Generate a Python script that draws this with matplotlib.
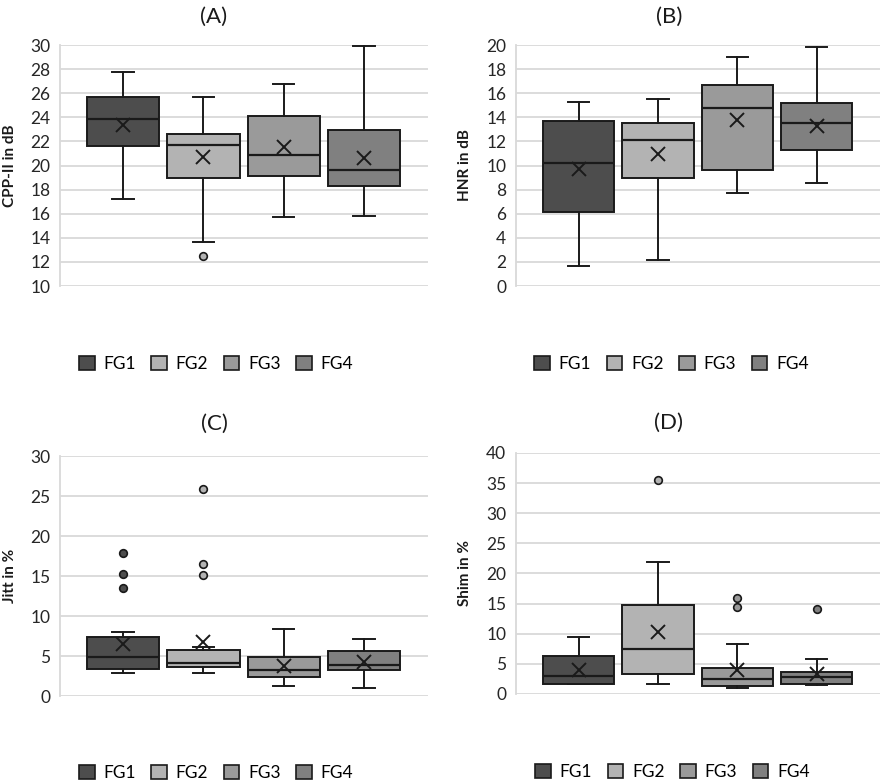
import matplotlib
matplotlib.use("Agg")
import matplotlib.pyplot as plt
from matplotlib.patches import Patch

plt.rcParams['font.family'] = ['Lato', 'DejaVu Sans']

groups = ["FG1", "FG2", "FG3", "FG4"]
colors = ["#4d4d4d", "#b3b3b3", "#9a9a9a", "#808080"]

# Panel A: CPP-II in dB
a_whislo = [17.25, 13.65, 15.73, 15.81]
a_q1 = [21.6, 18.93, 19.1, 18.3]
a_med = [23.83, 21.73, 20.9, 19.65]
a_q3 = [25.68, 22.6, 24.14, 22.95]
a_whishi = [27.76, 25.66, 26.74, 29.92]
a_mean = [23.36, 20.73, 21.56, 20.65]
a_fliers = [[], [12.49], [], []]

# Panel B: HNR in dB
b_whislo = [1.63, 2.19, 7.69, 8.55]
b_q1 = [6.11, 8.96, 9.65, 11.26]
b_med = [10.18, 12.09, 14.77, 13.5]
b_q3 = [13.69, 13.5, 16.68, 15.16]
b_whishi = [15.3, 15.49, 19.03, 19.81]
b_mean = [9.71, 10.98, 13.75, 13.31]
b_fliers = [[], [], [], []]

# Panel C: Jitt in %
c_whislo = [2.83, 2.92, 1.29, 1.0]
c_q1 = [3.33, 3.67, 2.38, 3.25]
c_med = [4.88, 4.08, 3.25, 3.92]
c_q3 = [7.33, 5.79, 4.88, 5.58]
c_whishi = [7.96, 6.13, 8.33, 7.17]
c_mean = [6.54, 6.71, 3.79, 4.21]
c_fliers = [[17.83, 15.29, 13.46], [25.88, 16.46, 15.17], [], []]

# Panel D: Shim in %
d_whislo = [1.6, 1.66, 0.94, 1.43]
d_q1 = [1.71, 3.31, 1.32, 1.66]
d_med = [2.92, 7.5, 2.48, 2.76]
d_q3 = [6.23, 14.79, 4.3, 3.64]
d_whishi = [9.43, 21.85, 8.33, 5.85]
d_mean = [3.92, 10.26, 3.92, 3.37]
d_fliers = [[], [35.48], [16.0, 14.4], [14.07]]

panels = [
    dict(title="(A)", ylabel="CPP-II in dB", ylim=(10, 30), step=2,
         stats=(a_whislo, a_q1, a_med, a_q3, a_whishi, a_mean, a_fliers),
         rect=[0.0677, 0.6347, 0.4153, 0.3078], tx=0.2415, ty=0.979, lx=0.011,
         legx=0.244, legy=0.535),
    dict(title="(B)", ylabel="HNR in dB", ylim=(0, 20), step=2,
         stats=(b_whislo, b_q1, b_med, b_q3, b_whishi, b_mean, b_fliers),
         rect=[0.5824, 0.6347, 0.4108, 0.3078], tx=0.755, ty=0.979, lx=0.525,
         legx=0.758, legy=0.535),
    dict(title="(C)", ylabel="Jitt in %", ylim=(0, 30), step=5,
         stats=(c_whislo, c_q1, c_med, c_q3, c_whishi, c_mean, c_fliers),
         rect=[0.0677, 0.1111, 0.4153, 0.3065], tx=0.2415, ty=0.459, lx=0.011,
         legx=0.244, legy=0.013),
    dict(title="(D)", ylabel="Shim in %", ylim=(0, 40), step=5,
         stats=(d_whislo, d_q1, d_med, d_q3, d_whishi, d_mean, d_fliers),
         rect=[0.5824, 0.1137, 0.4108, 0.3078], tx=0.755, ty=0.460, lx=0.525,
         legx=0.759, legy=0.014),
]

fig = plt.figure(figsize=(8.86, 7.83), dpi=100)
edge = "#1a1a1a"

for p in panels:
    ax = fig.add_axes(p["rect"])
    wl, q1, md, q3, wh, mn, fl = p["stats"]
    bstats = []
    for i in range(len(groups)):
        bstats.append(dict(whislo=wl[i], q1=q1[i], med=md[i], q3=q3[i],
                           whishi=wh[i], mean=mn[i], fliers=fl[i], label=groups[i]))
    positions = list(range(len(groups)))
    bp = ax.bxp(bstats, positions=positions, widths=0.9, capwidths=0.27,
                patch_artist=True, showmeans=True, showfliers=True,
                boxprops=dict(edgecolor=edge, linewidth=1.4),
                whiskerprops=dict(color=edge, linewidth=1.4),
                capprops=dict(color=edge, linewidth=1.4),
                medianprops=dict(color=edge, linewidth=1.6),
                meanprops=dict(marker='x', markeredgecolor=edge, markersize=10,
                               markeredgewidth=1.4))
    for box, c in zip(bp['boxes'], colors):
        box.set_facecolor(c)
    for fli, c in zip(bp['fliers'], colors):
        fli.set_marker('o')
        fli.set_markerfacecolor(c)
        fli.set_markeredgecolor(edge)
        fli.set_markersize(5.5)
        fli.set_markeredgewidth(1.2)
    ax.set_xlim(-0.79, 3.8)
    lo, hi = p["ylim"]
    ax.set_ylim(lo, hi)
    ax.set_yticks(range(lo, hi + 1, p["step"]))
    ax.yaxis.grid(True, color="#d9d9d9", linewidth=1.3)
    ax.set_axisbelow(True)
    ax.set_xticks([])
    for s in ["top", "right", "bottom"]:
        ax.spines[s].set_visible(False)
    ax.spines["left"].set_color("#d9d9d9")
    ax.spines["left"].set_linewidth(1.3)
    ax.tick_params(axis='y', length=0, labelsize=12.5, colors="#262626", pad=7)
    fig.text(p["tx"], p["ty"], p["title"], ha="center", va="center", fontsize=16, color="#1a1a1a")
    fig.text(p["lx"], p["rect"][1] + p["rect"][3] / 2, p["ylabel"], rotation=90,
             ha="center", va="center", fontsize=11, fontweight="bold", color="#1a1a1a")
    handles = [Patch(facecolor=c, edgecolor=edge, linewidth=1.2) for c in colors]
    fig.legend(handles, groups, loc="center", bbox_to_anchor=(p["legx"], p["legy"]),
               ncol=4, frameon=False, fontsize=12.5, handlelength=0.9, handleheight=0.9,
               columnspacing=0.9, handletextpad=0.5, borderaxespad=0, borderpad=0)

fig.savefig("out.png", dpi=100)
